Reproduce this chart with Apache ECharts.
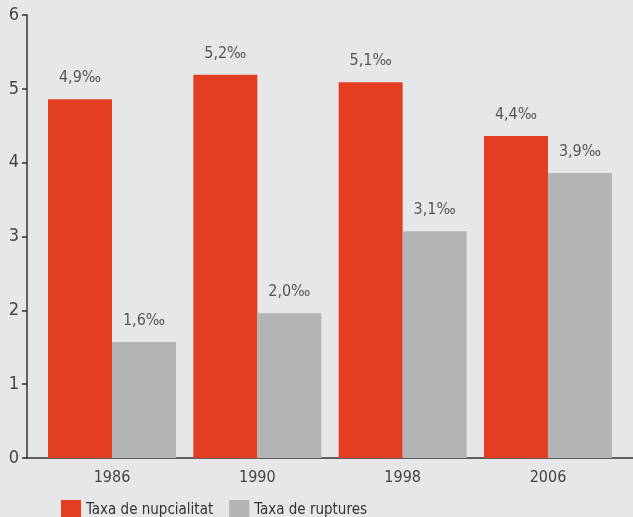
<!DOCTYPE html>
<html><head><meta charset="utf-8">
<script src="https://cdn.jsdelivr.net/npm/echarts@6/dist/echarts.min.js"></script>
<style>html,body{margin:0;padding:0;background:#e6e7e9;}#c{width:633px;height:517px;}</style>
</head><body><div id="c"></div>
<script>
const categories = ['1986', '1990', '1998', '2006'];
const nupcialitat = [4.86, 5.19, 5.09, 4.36];
const ruptures = [1.57, 1.96, 3.07, 3.86];
const yTicks = [0, 1, 2, 3, 4, 5, 6];
const seriesNames = ['Taxa de nupcialitat', 'Taxa de ruptures'];

const FONT = "'Liberation Sans Narrow', 'DejaVu Sans Condensed', 'Roboto', sans-serif";
const fmt = p => p.value[1].toFixed(1).replace('.', ',') + '‰';
const chart = echarts.init(document.getElementById('c'));
chart.setOption({
  backgroundColor: '#e6e7e9',
  animation: false,
  grid: {left: 27, right: 0, top: 15, bottom: 59, containLabel: false},
  xAxis: {
    type: 'value', min: -0.585, max: 3.585,
    axisLine: {show: true, onZero: false, lineStyle: {color: '#333', width: 1.5}},
    axisTick: {show: false},
    splitLine: {show: false},
    axisLabel: {customValues: [0, 1, 2, 3], formatter: v => categories[Math.round(v)],
      color: '#444', fontFamily: FONT, fontSize: 16, margin: 12}
  },
  yAxis: {
    type: 'value', min: yTicks[0], max: yTicks[yTicks.length - 1], interval: 1,
    position: 'left',
    axisLine: {show: true, onZero: false, lineStyle: {color: '#333', width: 1.5}},
    axisTick: {show: true, length: 5, lineStyle: {color: '#333', width: 1.5}},
    splitLine: {show: false},
    axisLabel: {color: '#444', fontFamily: FONT, fontSize: 18, margin: 8}
  },
  legend: {
    left: 61, top: 500, padding: 0, itemWidth: 20, itemHeight: 20, itemGap: 16,
    icon: 'rect',
    textStyle: {color: '#333', fontFamily: FONT, fontSize: 15},
    data: seriesNames
  },
  series: [
    {name: seriesNames[0], type: 'bar', barWidth: 64, barGap: '0%',
     itemStyle: {color: '#e33d22'},
     label: {show: true, position: 'top', distance: 13, formatter: fmt, color: '#555', fontFamily: FONT, fontSize: 16},
     data: nupcialitat.map((v, i) => [i, v])},
    {name: seriesNames[1], type: 'bar', barWidth: 64, barGap: '0%',
     itemStyle: {color: '#b2b4b6'},
     label: {show: true, position: 'top', distance: 13, formatter: fmt, color: '#555', fontFamily: FONT, fontSize: 16},
     data: ruptures.map((v, i) => [i, v])}
  ]
});
</script></body></html>
